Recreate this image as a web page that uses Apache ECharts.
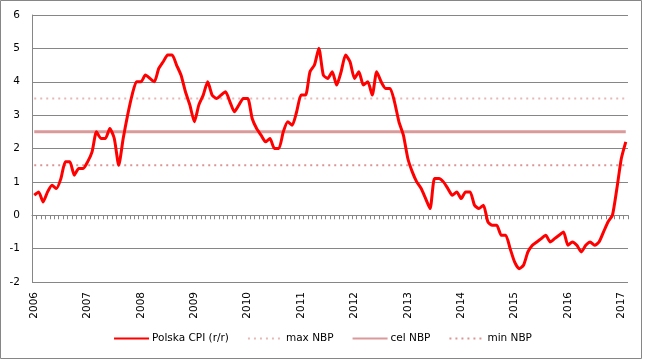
<!DOCTYPE html>
<html>
<head>
<meta charset="utf-8">
<script src="https://cdn.jsdelivr.net/npm/echarts@6/dist/echarts.min.js"></script>
<style>
html,body{margin:0;padding:0;background:#fff;}
#c{width:645px;height:362px;}
</style>
</head>
<body>
<div id="c"></div>
<script>
// Tick labels (years, shown at each January)
const years = ['2006','2007','2008','2009','2010','2011','2012','2013','2014','2015','2016','2017'];
// Monthly CPI y/y, Jan 2006 - Feb 2017
const cpi2006 = [0.6, 0.7, 0.4, 0.7, 0.9, 0.8, 1.1, 1.6, 1.6, 1.2, 1.4, 1.4];
const cpi2007 = [1.6, 1.9, 2.5, 2.3, 2.3, 2.6, 2.3, 1.5, 2.3, 3.0, 3.6, 4.0];
const cpi2008 = [4.0, 4.2, 4.1, 4.0, 4.4, 4.6, 4.8, 4.8, 4.5, 4.2, 3.7, 3.3];
const cpi2009 = [2.8, 3.3, 3.6, 4.0, 3.6, 3.5, 3.6, 3.7, 3.4, 3.1, 3.3, 3.5];
const cpi2010 = [3.5, 2.9, 2.6, 2.4, 2.2, 2.3, 2.0, 2.0, 2.5, 2.8, 2.7, 3.1];
const cpi2011 = [3.6, 3.6, 4.3, 4.5, 5.0, 4.2, 4.1, 4.3, 3.9, 4.3, 4.8, 4.6];
const cpi2012 = [4.1, 4.3, 3.9, 4.0, 3.6, 4.3, 4.0, 3.8, 3.8, 3.4, 2.8, 2.4];
const cpi2013 = [1.7, 1.3, 1.0, 0.8, 0.5, 0.2, 1.1, 1.1, 1.0, 0.8, 0.6, 0.7];
const cpi2014 = [0.5, 0.7, 0.7, 0.3, 0.2, 0.3, -0.2, -0.3, -0.3, -0.6, -0.6, -1.0];
const cpi2015 = [-1.4, -1.6, -1.5, -1.1, -0.9, -0.8, -0.7, -0.6, -0.8, -0.7, -0.6, -0.5];
const cpi2016 = [-0.9, -0.8, -0.9, -1.1, -0.9, -0.8, -0.9, -0.8, -0.5, -0.2, 0.0, 0.8];
const cpi2017 = [1.7, 2.2];
// NBP inflation target band
const maxNBP = 3.5;
const celNBP = 2.5;
const minNBP = 1.5;

const cpi = [].concat(cpi2006, cpi2007, cpi2008, cpi2009, cpi2010, cpi2011,
                      cpi2012, cpi2013, cpi2014, cpi2015, cpi2016, cpi2017);
// Category labels: the year at each January, empty for other months
const categories = [];
years.forEach(function (y) {
  for (let m = 1; m <= 12; m++) {
    if (categories.length < cpi.length) categories.push(m === 1 ? y : '');
  }
});
const constLine = function (v) { return categories.map(function () { return v; }); };

const FONT = 'DejaVu Sans';
const GRID = {left: 32, right: 17, top: 15, bottom: 80, containLabel: false};
const frame = {
  type: 'rect', shape: {x: 0.5, y: 0.5, width: 641, height: 358},
  style: {fill: 'none', stroke: '#868686', lineWidth: 1}, silent: true, z: -1
};
const chart = echarts.init(document.getElementById('c'), null, {renderer: 'canvas'});
chart.setOption({
  animation: false,
  backgroundColor: '#fff',
  graphic: [frame],
  grid: [Object.assign({}, GRID), Object.assign({}, GRID)],
  legend: {
    bottom: 13, left: 'center',
    itemWidth: 35, itemHeight: 10, itemGap: 18,
    itemStyle: {opacity: 0},
    textStyle: {fontFamily: FONT, fontSize: 10.5, color: '#000', padding: [0, 0, 0, -2]},
    data: ['Polska CPI (r/r)', 'max NBP', 'cel NBP', 'min NBP']
  },
  xAxis: [{
    gridIndex: 0, type: 'category', data: categories, boundaryGap: true, position: 'bottom',
    axisLine: {show: false, onZero: false},
    axisTick: {show: false},
    axisLabel: {show: false},
    splitLine: {show: false}
  }, {
    gridIndex: 1, type: 'category', data: categories, boundaryGap: true, position: 'bottom',
    axisLine: {show: true, onZero: true, lineStyle: {color: '#868686', width: 1}},
    axisTick: {show: true, interval: 0, length: 4, lineStyle: {color: '#868686'}},
    axisLabel: {show: false},
    splitLine: {show: false}
  }],
  yAxis: [{
    gridIndex: 0, type: 'value', min: -2, max: 6, interval: 1,
    axisLine: {show: true, lineStyle: {color: '#868686'}},
    axisTick: {show: false},
    axisLabel: {fontFamily: FONT, fontSize: 10.5, color: '#000', margin: 12},
    splitLine: {show: true, lineStyle: {color: '#868686', width: 1}}
  }, {
    gridIndex: 1, type: 'value', min: -2, max: 6, interval: 1,
    axisLine: {show: false}, axisTick: {show: false}, axisLabel: {show: false},
    splitLine: {show: false}
  }],
  series: [{
    name: 'Polska CPI (r/r)', type: 'line', data: cpi, smooth: 0.2,
    symbol: 'none', z: 5,
    lineStyle: {color: '#FF0000', width: 3}, itemStyle: {color: '#FF0000'}
  }, {
    name: 'max NBP', type: 'line', data: constLine(maxNBP), symbol: 'none', z: 3,
    lineStyle: {color: '#E6B9B8', width: 2, type: [2, 4]}, itemStyle: {color: '#E6B9B8'}
  }, {
    name: 'cel NBP', type: 'line', data: constLine(celNBP), symbol: 'none', z: 3,
    lineStyle: {color: '#DA9A9A', width: 3}, itemStyle: {color: '#DA9A9A'}
  }, {
    name: 'min NBP', type: 'line', data: constLine(minNBP), symbol: 'none', z: 3,
    lineStyle: {color: '#D99694', width: 2, type: [2, 4]}, itemStyle: {color: '#D99694'}
  }]
});

// Vertical year tick labels, placed through the category axis scale
const yMin = chart.getModel().getComponent('yAxis', 0).get('min');
const labels = [];
categories.forEach(function (c, i) {
  if (!c) return;
  const p = chart.convertToPixel({xAxisIndex: 0, yAxisIndex: 0}, [i, yMin]);
  if (!p) return;
  labels.push({
    type: 'text', x: p[0], y: p[1] + 10, rotation: Math.PI / 2, silent: true, z: 10,
    style: {text: c, fontFamily: FONT, fontSize: 10.5, fill: '#000',
            align: 'right', verticalAlign: 'middle'}
  });
});
chart.setOption({graphic: [frame].concat(labels)});
</script>
</body>
</html>
